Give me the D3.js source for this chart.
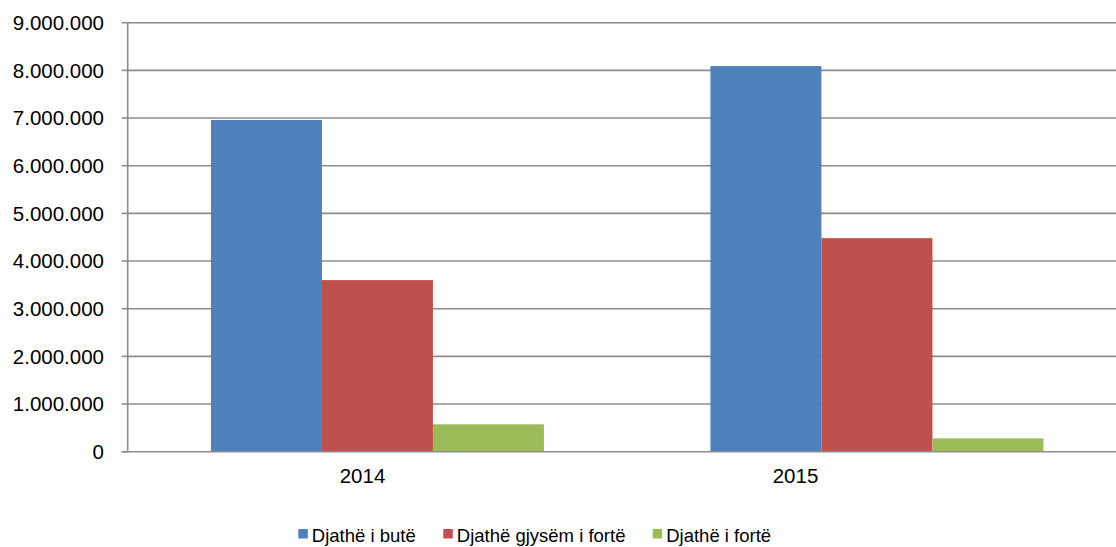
<!DOCTYPE html>
<html><head><meta charset="utf-8">
<script src="https://cdn.jsdelivr.net/npm/d3@7"></script>
<style>body{margin:0;background:#fff}svg{display:block}text{font-family:"Liberation Sans",Arial,sans-serif;fill:#000}</style>
</head><body><svg id="c" width="1116" height="547"></svg>
<script>
const categories = ["2014", "2015"];
const seriesNames = ["Djathë i butë", "Djathë gjysëm i fortë", "Djathë i fortë"];
const softValues = [6960000, 8090000];
const semiHardValues = [3600000, 4480000];
const hardValues = [575000, 280000];
const colors = ["#4F81BD", "#C0504D", "#9BBB59"];
const yTicks = [0,1000000,2000000,3000000,4000000,5000000,6000000,7000000,8000000,9000000];

(function () {
const series = [softValues, semiHardValues, hardValues];
const svg = d3.select("#c");
const pLeft = 127.7, pRight = 1126.7, pTop = 22.7, pBottom = 451.7;

const y = d3.scaleLinear().domain([0, 9000000]).range([pBottom, pTop]);
const x0 = d3.scaleBand().domain(categories).range([pLeft, pRight]).paddingInner(0).paddingOuter(0);
const labelScale = d3.scaleBand().domain(categories).range([146, 1012]);

const fmt = v => d3.format(",")(v).replace(/,/g, ".");

// gridlines
svg.append("g").selectAll("line").data(yTicks.filter(d => d > 0)).join("line")
  .attr("x1", pLeft).attr("x2", pRight).attr("y1", d => y(d)).attr("y2", d => y(d))
  .attr("stroke", "#8c8c8c").attr("stroke-width", 1.6);

// bars (Excel gap width 150%: band = 4.5 bar widths)
const barW = x0.bandwidth() / 4.5;
series.forEach((vals, si) => {
  svg.append("g").selectAll("rect").data(vals).join("rect")
    .attr("x", (d, i) => x0(categories[i]) + barW * (0.75 + si))
    .attr("width", barW)
    .attr("y", d => y(d)).attr("height", d => y(0) - y(d))
    .attr("fill", colors[si]);
});

// axes lines
svg.append("line").attr("x1", pLeft).attr("x2", pLeft).attr("y1", pTop).attr("y2", pBottom)
  .attr("stroke", "#8c8c8c").attr("stroke-width", 1.6);
svg.append("line").attr("x1", pLeft - 6).attr("x2", pRight).attr("y1", y(0)).attr("y2", y(0))
  .attr("stroke", "#8c8c8c").attr("stroke-width", 1.6);
svg.append("g").selectAll("line").data(yTicks).join("line")
  .attr("x1", pLeft - 6).attr("x2", pLeft).attr("y1", d => y(d)).attr("y2", d => y(d))
  .attr("stroke", "#8c8c8c").attr("stroke-width", 1.6);

// y labels
svg.append("g").selectAll("text").data(yTicks).join("text")
  .attr("x", 104).attr("y", d => y(d)).attr("dy", "0.36em")
  .attr("text-anchor", "end").style("font-size", "20.5px").text(d => fmt(d));

// x labels
svg.append("g").selectAll("text").data(categories).join("text")
  .attr("x", d => labelScale(d) + labelScale.bandwidth() / 2).attr("y", 483)
  .attr("text-anchor", "middle").style("font-size", "20.5px").text(d => d);

// legend
const legX = [298.3, 443.3, 652.7];
const lg = svg.append("g").selectAll("g").data(seriesNames).join("g");
lg.append("rect").attr("x", (d, i) => legX[i]).attr("y", 529).attr("width", 9.5).attr("height", 9.5)
  .attr("fill", (d, i) => colors[i]);
lg.append("text").attr("x", (d, i) => legX[i] + 13.5).attr("y", 541.5)
  .style("font-size", "18.5px").text(d => d);
})();
</script></body></html>
